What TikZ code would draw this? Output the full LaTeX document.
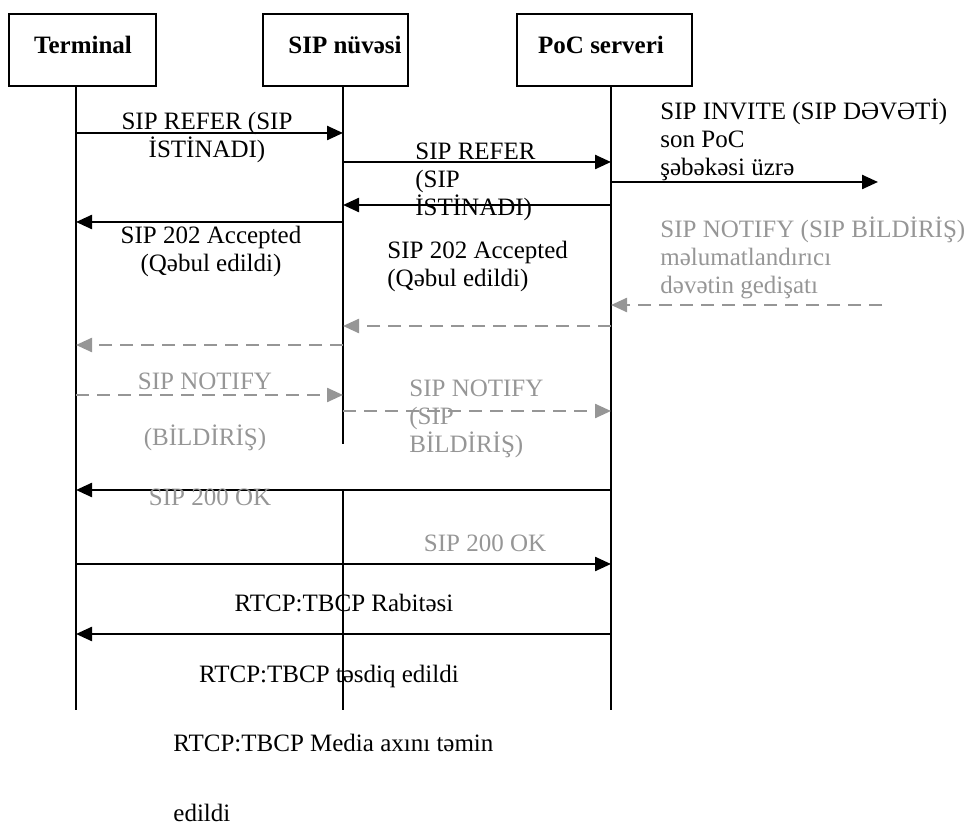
\documentclass[tikz,border=0pt]{standalone}
\usepackage{fontspec}
\setmainfont{Liberation Serif}
\usetikzlibrary{arrows.meta}
\definecolor{notegray}{RGB}{150,150,150}
\tikzset{
  actor/.style={draw, line width=0.9pt, minimum height=36pt, inner sep=0pt},
  head/.style={inner sep=0pt, font=\fontsize{12.5}{14}\selectfont\bfseries},
  life/.style={line width=0.9pt},
  msg/.style={line width=1.2pt, -{Triangle[length=8pt,width=7pt]}},
  notemsg/.style={line width=1.2pt, notegray, dash pattern=on 6.5pt off 4pt, -{Triangle[length=8pt,width=7pt]}},
  lbl/.style={inner sep=0pt, font=\fontsize{12.5}{14}\selectfont},
  notelbl/.style={lbl, text=notegray},
}
\begin{document}
\begin{tikzpicture}[x=0.5pt, y=-0.5pt]
\useasboundingbox (0,0) rectangle (970,828);

% Boxes
\node[actor, minimum width=73.5pt] (term) at (82.5,50) {};
\node[actor, minimum width=72.5pt] (core) at (335.5,50) {};
\node[actor, minimum width=87.5pt] (poc) at (604.5,50) {};
\node[head] (termlbl) at (83,45) {Terminal};
\node[head] (corelbl) at (345,45) {SIP nüvəsi};
\node[head] (poclbl) at (601,45) {PoC serveri};

% Lifelines
\coordinate (tl) at (76,86);
\coordinate (cl) at (343,86);
\coordinate (pl) at (611,86);
\coordinate (tb) at (76,710);
\coordinate (cb) at (343,710);
\coordinate (pb) at (611,710);
\coordinate (cgap1) at (343,444);
\coordinate (cgap2) at (343,490);
\coordinate (far1) at (878,182);
\coordinate (far2) at (882,305);
\draw[life] (tl) -- (tb);
\draw[life] (pl) -- (pb);
\draw[life] (cl) -- (cgap1);
\draw[life] (cgap2) -- (cb);

% REFER / 202
\draw[msg] (tl |- 0,133) -- (cl |- 0,133);
\draw[msg] (cl |- 0,162) -- (pl |- 0,162);
\draw[msg] (pl |- 0,182) -- (far1);
\draw[msg] (pl |- 0,205) -- (cl |- 0,205);
\draw[msg] (cl |- 0,222) -- (tl |- 0,222);
\node[lbl, align=center] (refer1) at (207,137) {SIP REFER (SIP\\İSTİNADI)};
\node[lbl, align=left, anchor=west] (refer2) at (415,182) {SIP REFER\\(SIP\\İSTİNADI)};
\node[lbl, align=left, anchor=west] (invite) at (660,140) {SIP INVITE (SIP DƏVƏTİ)\\son PoC\\şəbəkəsi üzrə};
\node[lbl, align=center] (acc1) at (211,251) {SIP 202 Accepted\\(Qəbul edildi)};
\node[lbl, align=left, anchor=west] (acc2) at (387,266) {SIP 202 Accepted\\(Qəbul edildi)};

% NOTIFY
\draw[notemsg] (far2) -- (pl |- 0,305);
\draw[notemsg] (pl |- 0,326) -- (cl |- 0,326);
\draw[notemsg] (cl |- 0,345) -- (tl |- 0,345);
\draw[notemsg] (tl |- 0,395) -- (cl |- 0,395);
\draw[notemsg] (cl |- 0,411) -- (pl |- 0,411);
\node[notelbl, align=left, anchor=west] (notify0) at (660,258) {SIP NOTIFY (SIP BİLDİRİŞ)\\məlumatlandırıcı\\dəvətin gedişatı};
\node[notelbl, align=center] (notify1) at (205,412) {SIP NOTIFY\\[14pt](BİLDİRİŞ)};
\node[notelbl, align=left, anchor=west] (notify2) at (409,419) {SIP NOTIFY\\(SIP\\BİLDİRİŞ)};

% 200 OK
\draw[msg] (pl |- 0,490) -- (tl |- 0,490);
\draw[msg] (tl |- 0,564) -- (pl |- 0,564);
\node[notelbl] (ok1) at (210,497) {SIP 200 OK};
\node[notelbl] (ok2) at (485,543) {SIP 200 OK};

% RTCP:TBCP
\draw[msg] (pl |- 0,634) -- (tl |- 0,634);
\node[lbl] (tbcp1) at (344,603) {RTCP:TBCP Rabitəsi};
\node[lbl] (tbcp2) at (329,676) {RTCP:TBCP təsdiq edildi};
\node[lbl, align=left, anchor=west] (tbcp3) at (173,778) {RTCP:TBCP Media axını təmin\\[21pt]edildi};
\end{tikzpicture}
\end{document}
